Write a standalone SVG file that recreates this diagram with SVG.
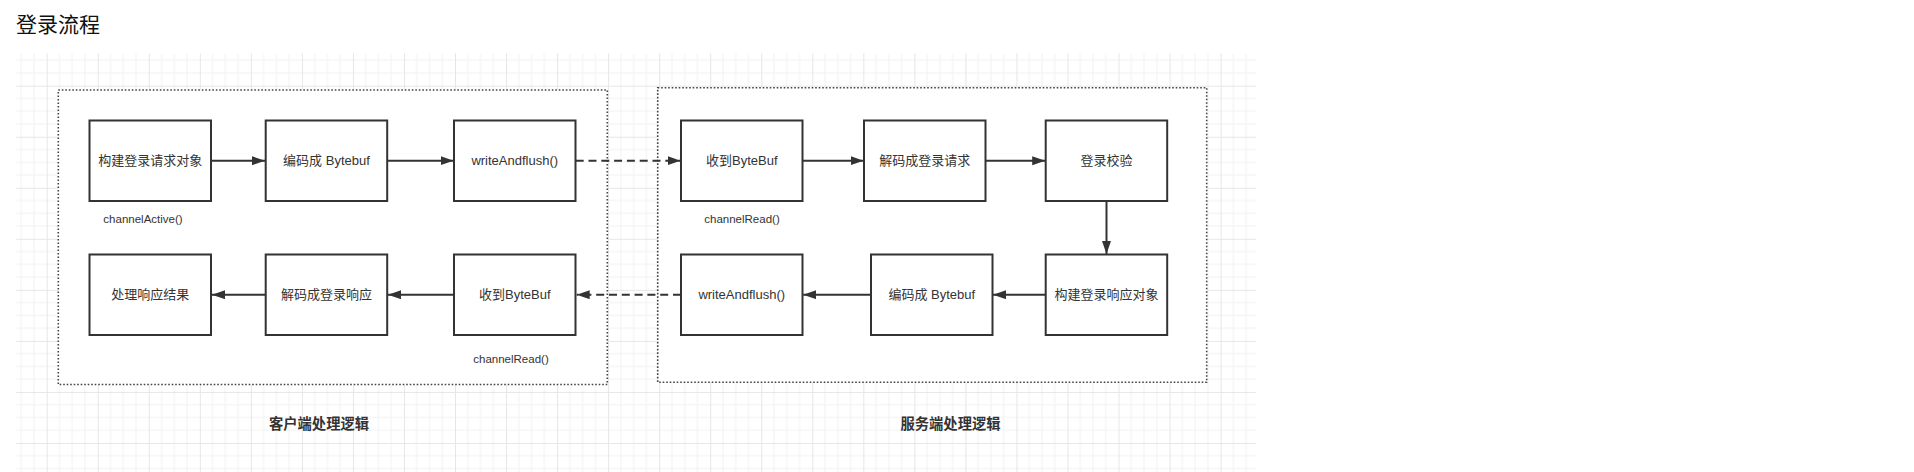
<svg xmlns="http://www.w3.org/2000/svg" width="1914" height="472" viewBox="0 0 1914 472">
<defs>
<style>
.box{fill:#fff;stroke:#333;stroke-width:2}
.grp{fill:#fff;stroke:#444;stroke-width:1.6;stroke-dasharray:1.6 1.9}
.lbl{font-family:"Liberation Sans","Noto Sans CJK SC",sans-serif;font-size:13px;fill:#333;text-anchor:middle;dominant-baseline:central}
.sm{font-family:"Liberation Sans","Noto Sans CJK SC",sans-serif;font-size:11.5px;fill:#333;text-anchor:middle;dominant-baseline:central}
.cap{font-family:"Liberation Sans","Noto Sans CJK SC",sans-serif;font-size:14.3px;font-weight:bold;fill:#333;text-anchor:middle;dominant-baseline:central}
.title{font-family:"Liberation Sans","Noto Sans CJK SC",sans-serif;font-size:21px;fill:#111;dominant-baseline:central}
.ln{fill:none;stroke:#333;stroke-width:2}
.dash{stroke-dasharray:8 4.8}
</style>
<pattern id="grid" patternUnits="userSpaceOnUse" x="46.7" y="85.7" width="51.04" height="51.04">
<path d="M12.76 0V51.04M25.52 0V51.04M38.28 0V51.04M0 12.76H51.04M0 25.52H51.04M0 38.28H51.04" stroke="#f2f2f2" stroke-width="1" fill="none"/>
<path d="M0.5 0V51.04M0 0.5H51.04" stroke="#e6e6e6" stroke-width="1" fill="none"/>
</pattern>
<marker id="ah" markerUnits="userSpaceOnUse" markerWidth="14" markerHeight="10" refX="13" refY="4.5" orient="auto">
<path d="M0,0 L13,4.5 L0,9 z" fill="#333"/>
</marker>
</defs>
<rect width="1914" height="472" fill="#fff"/>
<rect x="16" y="53.3" width="1240" height="418.7" fill="url(#grid)"/>
<text class="title" x="16" y="24">登录流程</text>

<g id="client-group">
<rect class="grp" x="58.3" y="90" width="549" height="294.5"/>
<text class="cap" x="319" y="424">客户端处理逻辑</text>
</g>
<g id="server-group">
<rect class="grp" x="657.7" y="87.7" width="549" height="294.6"/>
<text class="cap" x="950.5" y="424">服务端处理逻辑</text>
</g>

<g id="connectors">
<line class="ln" x1="211" y1="160.7" x2="265" y2="160.7" marker-end="url(#ah)"/>
<line class="ln" x1="387.3" y1="160.7" x2="453.5" y2="160.7" marker-end="url(#ah)"/>
<line class="ln dash" x1="575.7" y1="160.7" x2="680.5" y2="160.7" marker-end="url(#ah)"/>
<line class="ln" x1="802.5" y1="160.7" x2="863.5" y2="160.7" marker-end="url(#ah)"/>
<line class="ln" x1="985.7" y1="160.7" x2="1045.2" y2="160.7" marker-end="url(#ah)"/>
<line class="ln" x1="1106.5" y1="201" x2="1106.5" y2="254" marker-end="url(#ah)"/>
<line class="ln" x1="1045.7" y1="294.7" x2="993" y2="294.7" marker-end="url(#ah)"/>
<line class="ln" x1="871" y1="294.7" x2="803.2" y2="294.7" marker-end="url(#ah)"/>
<line class="ln dash" x1="681" y1="294.7" x2="576.7" y2="294.7" marker-end="url(#ah)"/>
<line class="ln" x1="454" y1="294.7" x2="388" y2="294.7" marker-end="url(#ah)"/>
<line class="ln" x1="265.7" y1="294.7" x2="212" y2="294.7" marker-end="url(#ah)"/>
</g>

<g id="c1"><rect class="box" x="89.5" y="120.5" width="121.5" height="80.5"/><text class="lbl" x="150.25" y="160.7">构建登录请求对象</text><text class="sm" x="143" y="219">channelActive()</text></g>
<g id="c2"><rect class="box" x="265.7" y="120.5" width="121.5" height="80.5"/><text class="lbl" x="326.45" y="160.7">编码成 Bytebuf</text></g>
<g id="c3"><rect class="box" x="454" y="120.5" width="121.5" height="80.5"/><text class="lbl" x="514.75" y="160.7">writeAndflush()</text></g>
<g id="c4"><rect class="box" x="454" y="254.5" width="121.5" height="80.5"/><text class="lbl" x="514.75" y="294.7">收到ByteBuf</text><text class="sm" x="511" y="359">channelRead()</text></g>
<g id="c5"><rect class="box" x="265.7" y="254.5" width="121.5" height="80.5"/><text class="lbl" x="326.45" y="294.7">解码成登录响应</text></g>
<g id="c6"><rect class="box" x="89.5" y="254.5" width="121.5" height="80.5"/><text class="lbl" x="150.25" y="294.7">处理响应结果</text></g>

<g id="s1"><rect class="box" x="681" y="120.5" width="121.5" height="80.5"/><text class="lbl" x="741.75" y="160.7">收到ByteBuf</text><text class="sm" x="742" y="219">channelRead()</text></g>
<g id="s2"><rect class="box" x="864" y="120.5" width="121.5" height="80.5"/><text class="lbl" x="924.75" y="160.7">解码成登录请求</text></g>
<g id="s3"><rect class="box" x="1045.7" y="120.5" width="121.5" height="80.5"/><text class="lbl" x="1106.45" y="160.7">登录校验</text></g>
<g id="s4"><rect class="box" x="1045.7" y="254.5" width="121.5" height="80.5"/><text class="lbl" x="1106.45" y="294.7">构建登录响应对象</text></g>
<g id="s5"><rect class="box" x="871" y="254.5" width="121.5" height="80.5"/><text class="lbl" x="931.75" y="294.7">编码成 Bytebuf</text></g>
<g id="s6"><rect class="box" x="681" y="254.5" width="121.5" height="80.5"/><text class="lbl" x="741.75" y="294.7">writeAndflush()</text></g>
</svg>
